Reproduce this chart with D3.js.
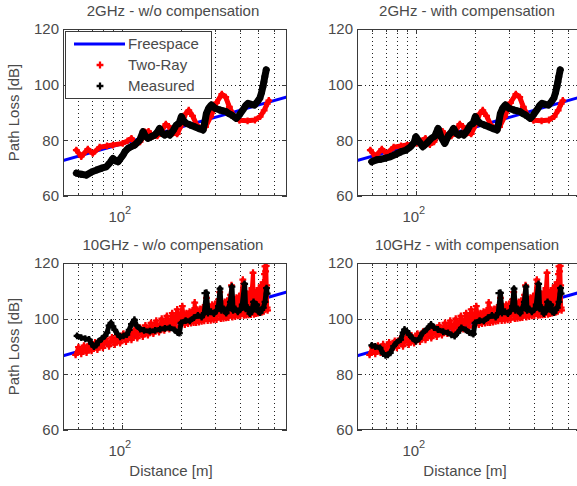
<!DOCTYPE html>
<html>
<head>
<meta charset="utf-8">
<script src="https://cdn.jsdelivr.net/npm/d3@7"></script>
<style>
  html, body { margin: 0; padding: 0; background: #fff; }
  svg { display: block; font-family: "Liberation Sans", Arial, Helvetica, sans-serif; }
</style>
</head>
<body>
<svg id="chart" width="577" height="486"></svg>
<script>
// Distance axis range [m] and path loss range [dB]
const distanceRange = [50, 700];
const lossRange = [60, 120];
const lossTicks = [60, 80, 100, 120];
const distanceGrid = [60, 70, 80, 90, 100, 200, 300, 400, 500, 600];
const distanceLabelTicks = [100];

const panelTitles = [
  "2GHz - w/o compensation", "2GHz - with compensation",
  "10GHz - w/o compensation", "10GHz - with compensation"
];
const legendLabels = ["Freespace", "Two-Ray", "Measured"];
const yLabel = "Path Loss [dB]";
const xLabel = "Distance [m]";

// Free-space path loss, [distance m, loss dB]
const freespace2 = [[50, 72.7], [700, 95.6]];
const freespace10 = [[50, 86.7], [700, 109.6]];

// Two-ray model, 2 GHz
const twoRay2 = [
  [58.5,76.5],[62,74.2],[67,76.8],[71,75.3],[77,77.5],[84,78],[90,78.3],[101,78.9],
  [107,79.8],[112,80.7],[118,78.5],[124,79.5],[131,83.0],[137,83.2],[144,81.5],[152,81.6],
  [160,83.5],[168,85.8],[174,85.0],[182,82.6],[192,82.3],[202,85.5],[212,89.5],[220,90.8],
  [230,88.8],[242,85.5],[255,84.2],[268,84.8],[285,88.5],[305,93.5],[325,96.6],[340,95.5],
  [355,92],[375,88.5],[400,87.2],[440,87],[480,87.3],[510,88.5],[535,90.8],[555,93.2],[565,94.3]
];

// Two-ray model, 10 GHz
const twoRay10 = [
  [58,87.0],[60,89.8],[62,87.4],[64,90.3],[66,87.8],[68,90.8],[70,88.4],[73,91.5],[75,88.9],
  [78,92],[80,89.5],[83,92.8],[86,90.1],[89,93.3],[92,90.7],[95,94],[98,91.2],[102,94.6],
  [105,91.8],[109,95.3],[112,92.4],[116,96],[120,93],[124,96.8],[128,93.6],[132,97.6],
  [136,94.1],[141,98.5],[145,94.6],[150,99.3],[155,95.2],[160,100],[165,95.8],[170,101],
  [175,96.3],[181,102],[186,96.8],[192,103.3],[198,97.4],[204,104.5],
  [210,97.9],[214,102],[218,98.2],[222,102.5],[226,98.4],[230,103],[233,98.6],[236,105.8],
  [240,98.6],[244,103.2],[248,98.8],[252,103.5],[256,99],[260,104],[264,99.2],[268,104.5],
  [271,107.5],[275,99.3],[280,104.5],[285,99.4],[290,105],[295,99.6],[300,105.3],[305,99.7],
  [310,106],[314,107],[317,109.5],[321,100],[326,105.5],[331,100.1],[336,106],[341,100.3],
  [346,106.5],[351,100.4],[356,107],[360,108.5],[364,112],[368,100.6],[374,107],[380,100.8],
  [386,107.5],[392,101],[398,108],[404,101.1],[410,109],[416,114],[421,101.2],[427,108.5],
  [433,101.3],[439,109],[445,101.4],[451,109.5],[457,101.5],[463,111],[469,116.5],[474,101.6],
  [480,109.5],[486,101.8],[492,110],[498,102],[504,111],[510,102.2],[516,112],[522,102.4],
  [528,113],[533,102.6],[537,116],[540,118.8],[544,117],[548,119],[551,112],[554,104],[557,103]
];

// Measured path loss, 2 GHz
const measured2Raw = [
  [58.5,68.2],[62,67.8],[65.8,67.5],[70,68.6],[74,69.3],[79,70],[83.3,70.5],[87,72],[90,73.5],
  [93,72.6],[95.6,72.3],[98.5,73.5],[101.4,74.7],[104,76],[107.6,77.1],[112,77.8],
  [116.4,78.3],[120,79.3],[123.5,80.1],[128.4,83.1],[132,81.5],[136,80.7],[141,81.3]
];
const measured2Comp = [
  [59.5,72.3],[63,73],[66,73.2],[70,73.6],[74,74.1],[79,75],[84,75.9],[89,76.5],[94,77.7],
  [98,79.2],[100,81.3],[104,79.5],[108.5,77.7],[114,79],[120,80.7],[125,81.5],[130,84.3],
  [135,81],[140.6,78.9]
];
const measured2Far = [
  [147.4,81.9],[152,83],[156,84.3],[161,82.5],[165.7,81.9],[171,82.4],[175.9,81.9],[183,83.5],
  [190,85.5],[196,86],[201.6,88.5],[207,87],[213.8,86.1],[224,85.5],[235.6,84.9],[248,84.2],
  [260.2,83.7],[265,86],[270.8,89.7],[278,91.5],[287,92.7],[300,91.5],[317,90.9],[330,90.6],
  [342.5,90.3],[353,89.6],[364,89.1],[375,88.5],[385,87.9],[398,89],[416,90.9],[430,92.5],
  [442,93.3],[460,92.9],[478,92.7],[495,94],[508,95.1],[518,97],[527,99.3],[533,101],
  [539,102.9],[548,105.3]
];

// Measured path loss, 10 GHz
const measured10Raw = [
  [59,93.8],[62,93.2],[65,92.8],[68,92.5],[70,91],[72,90],[74,90.5],[76,91.8],[79,92.8],
  [82,93.8],[84,95],[86,97.5],[88,98.5],[90,97.2],[92,96],[95,94.5],[98,93.5],[102,93.8],
  [106,94.3],[109,96],[112,98],[116,99.6],[119,97.5],[124,96.3],[130,95.8],[139,95.5],
  [148,95.8],[157,96.2],[166,96.5],[176,96.7],[186,96],[193,95],[197,94.8]
];
const measured10Comp = [
  [59.5,90.4],[62,90],[65.6,89.5],[68,87.5],[70,86.8],[72,87],[74,87.7],[77,90.1],[80,91.5],
  [83.6,92.5],[86,95],[87.5,96.1],[90,95.5],[92.4,94.3],[96,93],[100,91.9],[104,92.8],
  [108.5,94.9],[114,96.3],[119.6,97.9],[124,96.8],[129.7,96.1],[138,95.3],[146,94.9],
  [152,94.2],[158,93.7],[164,95],[171,96.7],[180,96],[188,95],[193,94.8],[197,94.5]
];
const measured10Far = [
  [201,98.5],[212,99.3],[223,99.2],[234,100.4],[245,101.2],[256,100.6],[264,102],[271,109.3],
  [276,102],[286,102.5],[296,101.8],[306,103],[312,104.5],[318,110.8],[323,103],[332,103.5],
  [342,102],[352,104],[359,106],[366,111.5],[371,103],[381,103.5],[392,102.5],[403,103.2],
  [413,105],[425,112.5],[430,103.5],[440,104],[452,101.8],[462,102.6],[472,106],[478,104],
  [490,105],[500,102.5],[510,102.2],[520,103.2],[530,104],[540,106],[550,111],[554,109]
];
const measured10Outliers = [[266, 109.2]];

const panels = [
  { title: panelTitles[0], col: 0, row: 0, fs: freespace2,  two: twoRay2,  meas: measured2Raw.concat(measured2Far),   extra: [] },
  { title: panelTitles[1], col: 1, row: 0, fs: freespace2,  two: twoRay2,  meas: measured2Comp.concat(measured2Far),  extra: [] },
  { title: panelTitles[2], col: 0, row: 1, fs: freespace10, two: twoRay10, meas: measured10Raw.concat(measured10Far),  extra: measured10Outliers },
  { title: panelTitles[3], col: 1, row: 1, fs: freespace10, two: twoRay10, meas: measured10Comp.concat(measured10Far), extra: measured10Outliers }
];

const svg = d3.select("#chart");
const W = 224, H = 167;
const colX = [63, 357], rowY = [29, 263];
const textColor = "#4a4a4a", axisColor = "#3a3a3a";
const blue = "#0000ff", red = "#ff0000", black = "#000000";

const x = d3.scaleLog().domain(distanceRange).range([0, W]);
const y = d3.scaleLinear().domain(lossRange).range([H, 0]);
const line = d3.line().x(d => x(d[0])).y(d => y(d[1]));
const cross = d3.symbol().type(d3.symbolCross).size(26);

panels.forEach((p, i) => {
  const g = svg.append("g").attr("transform", `translate(${colX[p.col]},${rowY[p.row]})`);
  const clipId = "clip" + i;
  g.append("clipPath").attr("id", clipId)
    .append("rect").attr("width", W).attr("height", H);

  g.append("rect").attr("width", W).attr("height", H).attr("fill", "#fff");

  // dotted grid
  const grid = g.append("g").attr("stroke", "#222").attr("stroke-width", 1)
    .attr("stroke-dasharray", "1,3");
  grid.selectAll("line.v").data(distanceGrid).join("line")
    .attr("x1", d => Math.round(x(d)) + 0.5).attr("x2", d => Math.round(x(d)) + 0.5)
    .attr("y1", 0).attr("y2", H);
  grid.selectAll("line.h").data(lossTicks.slice(1, -1)).join("line")
    .attr("y1", d => Math.round(y(d)) + 0.5).attr("y2", d => Math.round(y(d)) + 0.5)
    .attr("x1", 0).attr("x2", W);

  const plot = g.append("g").attr("clip-path", `url(#${clipId})`);

  // freespace
  plot.append("path").datum(p.fs).attr("d", line)
    .attr("fill", "none").attr("stroke", blue).attr("stroke-width", 3);

  // two-ray
  const rw = p.row === 0 ? 5 : 4;
  plot.append("path").datum(p.two).attr("d", line)
    .attr("fill", "none").attr("stroke", red).attr("stroke-width", rw)
    .attr("stroke-linejoin", "round").attr("stroke-linecap", "round");
  plot.append("g").selectAll("path").data(p.two).join("path")
    .attr("d", cross).attr("transform", d => `translate(${x(d[0])},${y(d[1])})`)
    .attr("fill", red);

  // measured
  const mw = p.row === 0 ? 7 : 5;
  plot.append("path").datum(p.meas).attr("d", line)
    .attr("fill", "none").attr("stroke", black).attr("stroke-width", mw)
    .attr("stroke-linejoin", "round").attr("stroke-linecap", "round");
  plot.append("g").selectAll("path").data(p.meas.concat(p.extra)).join("path")
    .attr("d", cross).attr("transform", d => `translate(${x(d[0])},${y(d[1])})`)
    .attr("fill", black);

  // axes box
  g.append("rect").attr("x", 0.5).attr("y", 0.5).attr("width", W - 1).attr("height", H - 1)
    .attr("fill", "none").attr("stroke", axisColor).attr("stroke-width", 1);

  // inward tick marks
  const ticks = g.append("g").attr("stroke", axisColor).attr("stroke-width", 1);
  distanceGrid.forEach(d => {
    const len = distanceLabelTicks.includes(d) ? 5 : 3;
    const xp = Math.round(x(d)) + 0.5;
    ticks.append("line").attr("x1", xp).attr("x2", xp).attr("y1", H).attr("y2", H - len);
    ticks.append("line").attr("x1", xp).attr("x2", xp).attr("y1", 0).attr("y2", len);
  });
  lossTicks.forEach(v => {
    const yp = Math.round(y(v)) + 0.5;
    ticks.append("line").attr("x1", 0).attr("x2", 5).attr("y1", yp).attr("y2", yp);
    ticks.append("line").attr("x1", W).attr("x2", W - 5).attr("y1", yp).attr("y2", yp);
  });

  // tick labels
  g.append("g").selectAll("text").data(lossTicks).join("text")
    .attr("x", -4).attr("y", d => y(d)).attr("dy", "0.36em")
    .attr("text-anchor", "end").attr("font-size", 15).attr("fill", textColor)
    .text(d => d);
  distanceLabelTicks.forEach(d => {
    const t = g.append("text").attr("x", x(d) - 2).attr("y", H + 26)
      .attr("text-anchor", "middle").attr("font-size", 15).attr("fill", textColor);
    t.append("tspan").text("10");
    t.append("tspan").attr("dy", -8).attr("font-size", 11).text(Math.round(Math.log10(d)));
  });

  // title
  g.append("text").attr("x", W / 2 - 2).attr("y", -13)
    .attr("text-anchor", "middle").attr("font-size", 15).attr("fill", textColor)
    .text(p.title);

  if (i === 0 || i === 2) {
    g.append("text").attr("transform", `translate(-44,${H / 2}) rotate(-90)`)
      .attr("text-anchor", "middle").attr("font-size", 15).attr("fill", textColor)
      .text(yLabel);
  }
  if (i >= 2) {
    g.append("text").attr("x", W / 2 - 4).attr("y", H + 46)
      .attr("text-anchor", "middle").attr("font-size", 15).attr("fill", textColor)
      .text(xLabel);
  }

  if (i === 0) {
    const lg = g.append("g").attr("transform", "translate(2,2)");
    lg.append("rect").attr("x", 0.5).attr("y", 0.5).attr("width", 146).attr("height", 67)
      .attr("fill", "#fff").attr("stroke", axisColor).attr("stroke-width", 1);
    const rows = [13, 34, 55];
    lg.append("line").attr("x1", 9).attr("x2", 60).attr("y1", rows[0]).attr("y2", rows[0])
      .attr("stroke", blue).attr("stroke-width", 3);
    lg.append("path").attr("d", cross).attr("transform", `translate(35,${rows[1]})`).attr("fill", red);
    lg.append("path").attr("d", cross).attr("transform", `translate(35,${rows[2]})`).attr("fill", black);
    lg.selectAll("text").data(legendLabels).join("text")
      .attr("x", 63).attr("y", (d, k) => rows[k]).attr("dy", "0.36em")
      .attr("font-size", 15).attr("fill", textColor).text(d => d);
  }
});
</script>
</body>
</html>
